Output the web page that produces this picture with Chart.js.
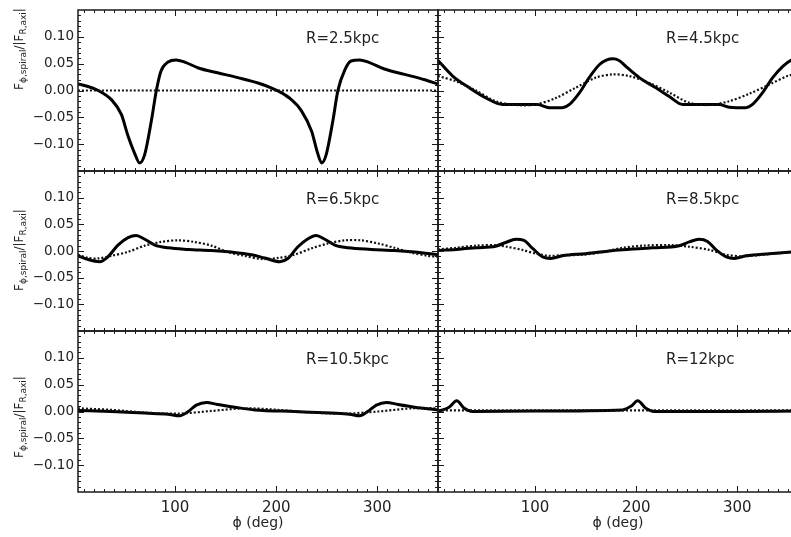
<!DOCTYPE html>
<html>
<head>
<meta charset="utf-8">
<script src="https://cdn.jsdelivr.net/npm/chart.js@4.4.0/dist/chart.umd.min.js"></script>
<style>
  html, body { margin: 0; padding: 0; background: #fff; overflow: hidden; }
  #wrap { position: relative; width: 791px; height: 537px; overflow: hidden; }
  #wrap canvas { position: absolute; left: 0; top: -20px; }
</style>
</head>
<body>
<div id="wrap">
  <canvas id="p0" width="800" height="577"></canvas>
  <canvas id="p1" width="800" height="577"></canvas>
  <canvas id="p2" width="800" height="577"></canvas>
  <canvas id="p3" width="800" height="577"></canvas>
  <canvas id="p4" width="800" height="577"></canvas>
  <canvas id="p5" width="800" height="577"></canvas>
</div>
<script>
// axis ticks and panel names
const phiTicks = [100, 200, 300];
const fTicks = [-0.10, -0.05, 0.00, 0.05, 0.10];
const panelLabels = ['R=2.5kpc', 'R=4.5kpc', 'R=6.5kpc', 'R=8.5kpc', 'R=10.5kpc', 'R=12kpc'];

// R = 2.5 kpc  (solid = spiral force, dotted = reference)
const phi25 = [4, 14, 24, 37, 47, 53, 60, 65, 70, 76.5, 81.5, 86, 93, 101, 109.5, 123, 142, 162, 182, 195, 205, 215, 225, 235, 241, 245, 249.5, 256, 261, 268, 274, 282.5, 291, 307, 327, 347, 360];
const sp25  = [0.012, 0.0075, 0.0, -0.017, -0.045, -0.082, -0.117, -0.135, -0.119, -0.057, 0.0, 0.036, 0.053, 0.057, 0.053, 0.042, 0.033, 0.024, 0.014, 0.005, -0.004, -0.017, -0.038, -0.076, -0.117, -0.135, -0.119, -0.057, 0.0, 0.039, 0.055, 0.057, 0.053, 0.040, 0.030, 0.020, 0.012];
const phi25d = [4, 360];
const dt25   = [0, 0];

// R = 4.5 kpc
const phi45 = [4, 18.5, 35, 51.5, 68, 84, 102.5, 114, 127, 134, 144, 153.5, 163.5, 171, 177, 183, 191.5, 203, 219.5, 232.7, 246, 266, 282, 292, 308.5, 315, 325, 335, 345, 353, 360];
const sp45  = [0.056, 0.027, 0.005, -0.014, -0.026, -0.026, -0.026, -0.032, -0.032, -0.026, -0.004, 0.024, 0.048, 0.057, 0.059, 0.056, 0.042, 0.024, 0.005, -0.011, -0.026, -0.026, -0.026, -0.031, -0.032, -0.026, -0.004, 0.024, 0.045, 0.056, 0.059];
const phi45d = [4, 22, 41.5, 61, 81, 101, 120.5, 140, 160, 176.5, 193, 213, 233, 252.5, 272, 292, 312, 331.5, 351, 360];
const dt45   = [0.027, 0.017, 0.0, -0.020, -0.027, -0.026, -0.014, 0.005, 0.024, 0.030, 0.027, 0.014, -0.004, -0.023, -0.027, -0.020, -0.006, 0.011, 0.028, 0.030];

// R = 6.5 kpc
const phi65 = [4, 14, 25.5, 33.5, 43.5, 53.5, 61.5, 70, 80, 93, 113, 136, 155.5, 175.5, 188.5, 203.5, 211.5, 221.5, 231.5, 239.5, 248, 258, 271, 294, 317, 337, 360];
const sp65  = [-0.009, -0.016, -0.020, -0.011, 0.011, 0.025, 0.029, 0.022, 0.011, 0.006, 0.003, 0.001, -0.002, -0.007, -0.013, -0.020, -0.014, 0.008, 0.023, 0.029, 0.022, 0.011, 0.006, 0.003, 0.001, -0.002, -0.007];
const phi65d = [4, 14, 24, 37, 53, 70, 86, 103, 119, 136, 152, 169, 185, 202, 218, 235, 251, 268, 284, 301, 317, 333.5, 350, 360];
const dt65   = [-0.007, -0.013, -0.014, -0.009, -0.002, 0.010, 0.017, 0.020, 0.017, 0.010, -0.002, -0.009, -0.015, -0.013, -0.007, 0.005, 0.014, 0.020, 0.020, 0.014, 0.006, -0.003, -0.009, -0.011];

// R = 8.5 kpc
const phi85 = [4, 22, 41.5, 61, 71, 81, 89, 97.5, 107.5, 115.5, 127, 150, 183, 216, 242.5, 252.5, 262, 270.5, 279, 289, 297, 308.5, 331.5, 360];
const sp85  = [0.001, 0.003, 0.006, 0.009, 0.016, 0.022, 0.020, 0.005, -0.011, -0.014, -0.009, -0.005, 0.002, 0.006, 0.010, 0.017, 0.022, 0.018, 0.002, -0.011, -0.014, -0.009, -0.005, -0.001];
const phi85d = [4, 22, 41.5, 61, 72, 87.5, 101, 114, 127, 147, 167, 186.5, 206.5, 233, 252.5, 272.5, 289, 305, 325, 360];
const dt85   = [0.003, 0.006, 0.010, 0.011, 0.008, 0.002, -0.005, -0.009, -0.008, -0.007, -0.002, 0.006, 0.010, 0.011, 0.008, 0.002, -0.007, -0.010, -0.007, -0.001];

// R = 10.5 kpc
const phi105 = [4, 37, 70, 93, 104.5, 113, 121, 131, 142, 159, 179, 218, 254.5, 272.5, 282.5, 290.5, 299, 309, 320.5, 337, 360];
const sp105  = [0.002, 0.0, -0.003, -0.005, -0.008, 0.0, 0.012, 0.017, 0.013, 0.008, 0.003, 0.0, -0.003, -0.005, -0.008, 0.0, 0.012, 0.017, 0.013, 0.008, 0.003];
const phi105d = [4, 37, 70, 103, 136, 169, 202, 235, 268, 301, 334, 360];
const dt105   = [0.006, 0.003, -0.002, -0.004, 0.001, 0.006, 0.003, -0.002, -0.004, 0.0, 0.006, 0.006];

// R = 12 kpc
const phi12 = [4, 15, 22.5, 30, 38, 101, 186.5, 195, 201.5, 209.5, 218, 299, 360];
const sp12  = [0.0, 0.008, 0.020, 0.006, 0.0, 0.001, 0.003, 0.010, 0.020, 0.006, 0.0, 0.0, 0.001];
const phi12d = [4, 360];
const dt12   = [0.002, 0.002];

const W = 800, H = 577, OFF = 20;
const cols = [[78, 438], [438, 798]];
const rows = [[10, 171], [171, 331], [331, 492]];
const FONT = '"DejaVu Sans", Arial, sans-serif';

const fmt = v => (v < 0 ? '\u2212' : '') + Math.abs(v).toFixed(2);

function line(ctx, x1, y1, x2, y2) {
  ctx.beginPath(); ctx.moveTo(x1, y1); ctx.lineTo(x2, y2); ctx.stroke();
}

// IDL-like frame with inward ticks plus panel texts
const framePlugin = {
  id: 'frame',
  afterDraw(chart, args, o) {
    const { ctx, chartArea: a } = chart;
    const x = chart.scales.x, y = chart.scales.y;
    ctx.save();
    ctx.strokeStyle = '#1a1a1a';
    ctx.lineWidth = 1.5;
    ctx.strokeRect(a.left, a.top, a.right - a.left, a.bottom - a.top);
    ctx.lineWidth = 1;
    for (let d = 10; d < 360; d += 10) {
      const px = Math.round(x.getPixelForValue(d)) + 0.5;
      const len = d % 100 === 0 ? 6 : 3;
      line(ctx, px, a.bottom, px, a.bottom - len);
      line(ctx, px, a.top, px, a.top + len);
    }
    for (let k = -14; k <= 14; k++) {
      const py = Math.round(y.getPixelForValue(k / 100)) + 0.5;
      const len = k % 5 === 0 ? 6 : 3;
      line(ctx, a.left, py, a.left + len, py);
      line(ctx, a.right, py, a.right - len, py);
    }
    ctx.fillStyle = '#222';
    ctx.font = '15px ' + FONT;
    ctx.textAlign = 'left';
    ctx.textBaseline = 'middle';
    ctx.fillText(o.label, a.left + 228, a.top + 29);
    if (o.xTitle) {
      ctx.font = '14px ' + FONT;
      ctx.textAlign = 'center';
      ctx.fillText('\u03d5 (deg)', (a.left + a.right) / 2, 523 + OFF);
    }
    if (o.yTitle) {
      const parts = [['F', 12, 0], ['\u03d5,spiral', 9, 3], ['/|F', 12, 0], ['R,axi', 9, 3], ['|', 12, 0]];
      let total = 0;
      parts.forEach(p => { ctx.font = p[1] + 'px ' + FONT; total += ctx.measureText(p[0]).width; });
      ctx.translate(23, o.yTitleY + OFF);
      ctx.rotate(-Math.PI / 2);
      ctx.textAlign = 'left';
      ctx.textBaseline = 'alphabetic';
      let cx = -total / 2;
      parts.forEach(p => {
        ctx.font = p[1] + 'px ' + FONT;
        ctx.fillText(p[0], cx, p[2]);
        cx += ctx.measureText(p[0]).width;
      });
    }
    ctx.restore();
  }
};

function makePanel(id, col, row, label, phiS, valS, phiD, valD, yTitleY) {
  const [l, r] = cols[col];
  const [t, b] = rows[row];
  const showY = col === 0, showX = row === 2;
  const yW = showY ? l : 0;
  const xH = showX ? H - b - OFF : 0;
  new Chart(document.getElementById(id), {
    type: 'line',
    data: {
      datasets: [
        { data: phiD.map((p, i) => ({ x: p, y: valD[i] })), borderColor: '#111', borderWidth: 2.2,
          borderDash: [2, 2], pointRadius: 0, tension: 0.3 },
        { data: phiS.map((p, i) => ({ x: p, y: valS[i] })), borderColor: '#000', borderWidth: 3,
          pointRadius: 0, cubicInterpolationMode: 'monotone', borderJoinStyle: 'round' }
      ]
    },
    options: {
      responsive: false, animation: false, events: [],
      layout: { padding: { left: l - yW, top: t + OFF, right: W - r, bottom: H - b - OFF - xH } },
      plugins: {
        legend: { display: false }, tooltip: { enabled: false },
        frame: { label, xTitle: showX, yTitle: showY, yTitleY }
      },
      scales: {
        x: {
          type: 'linear', min: 4, max: 360,
          afterBuildTicks: s => { s.ticks = phiTicks.map(v => ({ value: v })); },
          afterFit: s => { s.height = xH; s.paddingLeft = s.paddingRight = 0; },
          grid: { display: false, drawTicks: false }, border: { display: false },
          ticks: { display: showX, padding: 7, color: '#222', font: { family: FONT, size: 15 }, maxRotation: 0 }
        },
        y: {
          type: 'linear', min: -0.15, max: 0.15,
          afterBuildTicks: s => { s.ticks = fTicks.map(v => ({ value: v })); },
          afterFit: s => { s.width = yW; s.paddingTop = s.paddingBottom = 0; },
          grid: { display: false, drawTicks: false }, border: { display: false },
          ticks: { display: showY, padding: 4, color: '#222', font: { family: FONT, size: 13.5 }, callback: v => fmt(v) }
        }
      }
    },
    plugins: [framePlugin]
  });
}

makePanel('p0', 0, 0, panelLabels[0], phi25, sp25, phi25d, dt25, 49);
makePanel('p1', 1, 0, panelLabels[1], phi45, sp45, phi45d, dt45, 0);
makePanel('p2', 0, 1, panelLabels[2], phi65, sp65, phi65d, dt65, 250);
makePanel('p3', 1, 1, panelLabels[3], phi85, sp85, phi85d, dt85, 0);
makePanel('p4', 0, 2, panelLabels[4], phi105, sp105, phi105d, dt105, 417);
makePanel('p5', 1, 2, panelLabels[5], phi12, sp12, phi12d, dt12, 0);
</script>
</body>
</html>
